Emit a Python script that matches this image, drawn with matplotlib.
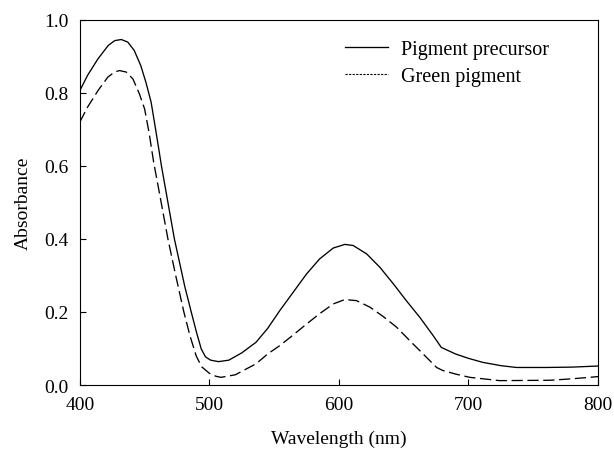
import matplotlib
matplotlib.use("Agg")
import matplotlib.pyplot as plt
from matplotlib.lines import Line2D
from matplotlib.ticker import FormatStrFormatter

plt.rcParams["font.family"] = ["Liberation Serif", "DejaVu Serif"]

# Pigment precursor (solid line)
wl_precursor = [400, 406, 414, 422, 427, 432, 437, 442, 447, 451, 455, 458.5,
                461, 463, 465, 469, 473, 477, 481, 486, 490, 493.7, 497, 501,
                507, 515, 525, 536, 545, 554.4, 564.7, 575, 585, 595.6, 604.6,
                611, 621.4, 631.7, 642, 652, 662.5, 672.8, 679, 690, 700, 711,
                725, 737, 760, 780, 800]
abs_precursor = [0.806, 0.848, 0.893, 0.930, 0.943, 0.946, 0.939, 0.916, 0.875,
                 0.829, 0.775, 0.70, 0.645, 0.60, 0.56, 0.48, 0.40, 0.335, 0.27,
                 0.20, 0.145, 0.099, 0.077, 0.068, 0.064, 0.068, 0.088, 0.117,
                 0.155, 0.204, 0.254, 0.304, 0.345, 0.375, 0.385, 0.382, 0.359,
                 0.322, 0.277, 0.231, 0.185, 0.135, 0.103, 0.085, 0.073, 0.062,
                 0.053, 0.048, 0.048, 0.049, 0.052]

# Green pigment (dashed line)
wl_green = [400, 406, 414, 421.6, 426.8, 430.6, 435.8, 441, 446, 450, 453.5,
            457, 462, 468, 474, 480.3, 485, 489.8, 494, 500, 505, 509, 520,
            536, 545, 554.4, 564.7, 575, 585, 595.6, 604.6, 613.6, 624, 634,
            644.6, 654.8, 665, 675.4, 680, 690, 701, 724, 763, 780, 800]
abs_green = [0.72, 0.761, 0.806, 0.843, 0.857, 0.861, 0.857, 0.838, 0.797,
             0.756, 0.69, 0.61, 0.515, 0.40, 0.30, 0.20, 0.135, 0.080, 0.05,
             0.032, 0.024, 0.021, 0.028, 0.058, 0.085, 0.108, 0.137, 0.167,
             0.195, 0.222, 0.234, 0.231, 0.213, 0.188, 0.158, 0.121, 0.085,
             0.048, 0.040, 0.030, 0.021, 0.012, 0.013, 0.017, 0.023]

fig = plt.figure(figsize=(6.14, 4.52), dpi=100)
ax = fig.add_axes([0.130, 0.146, 0.844, 0.808])

ax.plot(wl_precursor, abs_precursor, color="black", linewidth=0.95)
ax.plot(wl_green, abs_green, color="black", linewidth=0.95, dashes=(8.5, 3.5))

ax.set_xlim(400, 800)
ax.set_ylim(0, 1.0)
ax.set_xticks([400, 500, 600, 700, 800])
ax.set_yticks([0.0, 0.2, 0.4, 0.6, 0.8, 1.0])
ax.yaxis.set_major_formatter(FormatStrFormatter("%.1f"))
ax.tick_params(direction="in", length=4, width=0.8, labelsize=14, pad=8)

for s in ax.spines.values():
    s.set_linewidth(0.8)

ax.set_xlabel("Wavelength (nm)", fontsize=14, labelpad=12)
ax.set_ylabel("Absorbance", fontsize=14, labelpad=9)

handles = [Line2D([], [], color="black", linewidth=0.95),
           Line2D([], [], color="black", linewidth=0.8, dashes=(2, 1.2))]
ax.legend(handles, ["Pigment precursor", "Green pigment"], frameon=False,
          fontsize=14.5, loc="upper left", bbox_to_anchor=(0.512, 0.945),
          borderpad=0, borderaxespad=0, handlelength=2.15,
          handletextpad=0.6, labelspacing=0.38)

fig.savefig("out.png", dpi=100)
